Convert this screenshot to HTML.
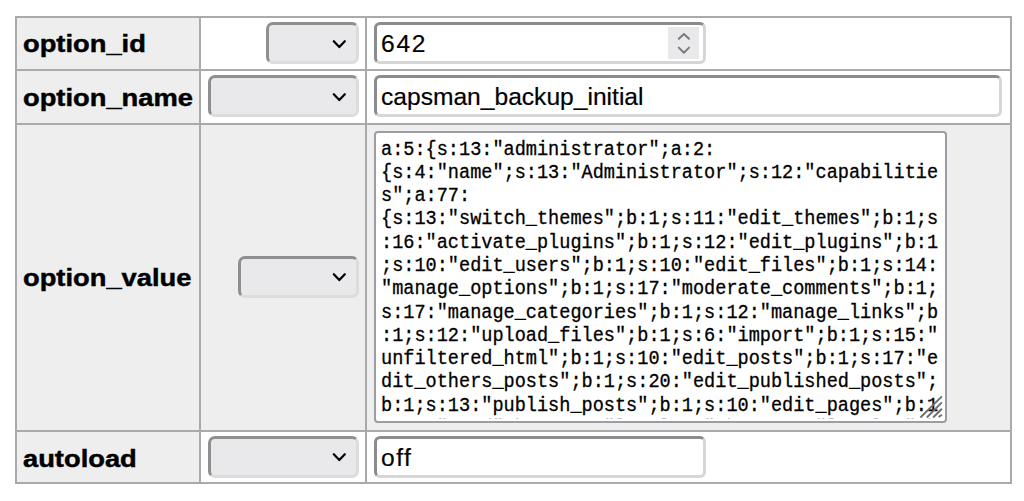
<!DOCTYPE html>
<html><head><meta charset="utf-8">
<style>
html,body{margin:0;padding:0;background:#fff;width:1024px;height:501px;overflow:hidden;position:relative;font-family:"Liberation Sans",sans-serif;}
.a{position:absolute;}
.g{background:#eeeeee;}
.ln{position:absolute;background:#aaaaaa;}
.lbl{position:absolute;left:23px;font-weight:bold;font-size:24px;line-height:24px;color:#000;white-space:nowrap;transform-origin:0 0;transform:scaleX(1.138);-webkit-text-stroke:0.45px #000;}
.sel{position:absolute;box-sizing:border-box;background:#e9e9ec;border-radius:7px;border-top:3px solid #8f8f8f;border-left:3px solid #8f8f8f;border-right:3px solid #dcdcdc;border-bottom:3px solid #dcdcdc;}
.chev{position:absolute;width:14px;height:9px;}
.inp{position:absolute;box-sizing:border-box;background:#fff;border-radius:6px;border-top:3px solid #8c8c8c;border-left:3px solid #8c8c8c;border-right:3px solid #d6d6d6;border-bottom:3px solid #d6d6d6;}
.itx{position:absolute;left:381px;font-size:24.6px;line-height:24px;color:#000;white-space:nowrap;-webkit-text-stroke:0.2px #000;}
.ta{position:absolute;left:374px;top:131px;width:573px;height:292px;box-sizing:border-box;background:#fff;border:2px solid #9c9ca4;border-radius:4px;overflow:hidden;}
.tl{position:absolute;left:4.6px;top:0;font-family:"Liberation Mono",monospace;font-size:20px;line-height:23.26px;transform-origin:0 0;transform:scaleX(0.9283);-webkit-text-stroke:0.3px #000;white-space:pre;color:#000;}
</style></head><body>
<!-- cell backgrounds -->
<div class="a g" style="left:16px;top:17px;width:184px;height:466px;"></div>
<div class="a g" style="left:200px;top:123px;width:811px;height:308px;"></div>

<!-- grid lines -->
<div class="ln" style="left:15px;top:16px;width:997px;height:2px;"></div>
<div class="ln" style="left:15px;top:482px;width:997px;height:2px;"></div>
<div class="ln" style="left:15px;top:16px;width:2px;height:468px;"></div>
<div class="ln" style="left:1010px;top:16px;width:2px;height:468px;"></div>
<div class="ln" style="left:199px;top:16px;width:2px;height:468px;"></div>
<div class="ln" style="left:365px;top:16px;width:1.5px;height:468px;"></div>
<div class="ln" style="left:15px;top:69px;width:997px;height:2px;"></div>
<div class="ln" style="left:15px;top:122.5px;width:997px;height:2px;"></div>
<div class="ln" style="left:15px;top:430px;width:997px;height:1.5px;"></div>

<!-- labels -->
<div class="lbl" style="top:32px;">option_id</div>
<div class="lbl" style="top:86px;">option_name</div>
<div class="lbl" style="top:265.5px;">option_value</div>
<div class="lbl" style="top:446.5px;">autoload</div>

<!-- selects -->
<div class="sel" style="left:266px;top:22px;width:93px;height:42px;"></div>
<div class="sel" style="left:208px;top:75px;width:151px;height:42px;"></div>
<div class="sel" style="left:238px;top:256px;width:121px;height:42px;"></div>
<div class="sel" style="left:208px;top:436px;width:151px;height:42px;"></div>
<svg class="chev" style="left:332px;top:39.6px;" viewBox="0 0 14 9"><path d="M1.8 1.2 L7.3 7.1 L12.8 1.2" fill="none" stroke="#000" stroke-width="2.2" stroke-linecap="round" stroke-linejoin="round"/></svg>
<svg class="chev" style="left:332px;top:92.8px;" viewBox="0 0 14 9"><path d="M1.8 1.2 L7.3 7.1 L12.8 1.2" fill="none" stroke="#000" stroke-width="2.2" stroke-linecap="round" stroke-linejoin="round"/></svg>
<svg class="chev" style="left:332px;top:273.3px;" viewBox="0 0 14 9"><path d="M1.8 1.2 L7.3 7.1 L12.8 1.2" fill="none" stroke="#000" stroke-width="2.2" stroke-linecap="round" stroke-linejoin="round"/></svg>
<svg class="chev" style="left:332px;top:453.3px;" viewBox="0 0 14 9"><path d="M1.8 1.2 L7.3 7.1 L12.8 1.2" fill="none" stroke="#000" stroke-width="2.2" stroke-linecap="round" stroke-linejoin="round"/></svg>

<!-- inputs -->
<div class="inp" style="left:374px;top:22px;width:332px;height:42px;"></div>
<div class="a" style="left:668px;top:27px;width:31px;height:31.5px;background:#e9e9ec;"></div>
<svg class="a" style="left:670px;top:27px;width:30px;height:32px;" viewBox="0 0 30 32"><path d="M8.8 11.8 L13.9 7 L19 11.8 M8.8 20.6 L13.9 25.8 L19 20.6" fill="none" stroke="#7a7a7a" stroke-width="2" stroke-linecap="round" stroke-linejoin="round"/></svg>
<div class="itx" style="top:32px;letter-spacing:1.7px;">642</div>

<div class="inp" style="left:374px;top:75px;width:628px;height:42px;"></div>
<div class="itx" style="top:85px;">capsman_backup_initial</div>

<div class="inp" style="left:374px;top:436px;width:332px;height:42px;"></div>
<div class="itx" style="top:446px;letter-spacing:1.5px;">off</div>

<!-- textarea -->
<div class="ta"><div class="a" style="left:0;top:0;right:0;bottom:2px;overflow:hidden;">
<div class="tl" style="top:4.7px;">a:5:{s:13:"administrator";a:2:
{s:4:"name";s:13:"Administrator";s:12:"capabilitie
s";a:77:
{s:13:"switch_themes";b:1;s:11:"edit_themes";b:1;s
:16:"activate_plugins";b:1;s:12:"edit_plugins";b:1
;s:10:"edit_users";b:1;s:10:"edit_files";b:1;s:14:
"manage_options";b:1;s:17:"moderate_comments";b:1;
s:17:"manage_categories";b:1;s:12:"manage_links";b
:1;s:12:"upload_files";b:1;s:6:"import";b:1;s:15:"
unfiltered_html";b:1;s:10:"edit_posts";b:1;s:17:"e
dit_others_posts";b:1;s:20:"edit_published_posts";
b:1;s:13:"publish_posts";b:1;s:10:"edit_pages";b:1
;s:4:"read";b:1;s:8:"level_10";b:1;s:7:"level_9";b</div>
</div></div>
<svg class="a" style="left:916px;top:392px;width:30px;height:30px;" viewBox="0 0 30 30"><path d="M4.4 25.5 L25.9 4.4 M10.8 25.5 L25.9 10.4 M17.1 25.5 L25.9 16.8 M22.7 25 L25.9 22.7" fill="none" stroke="#6e6e6e" stroke-width="1.9"/></svg>
</body></html>
